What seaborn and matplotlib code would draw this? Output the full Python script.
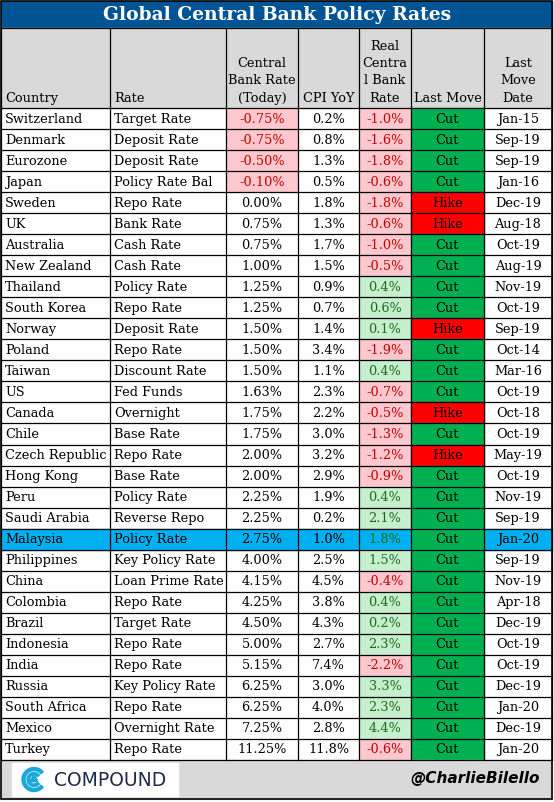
import matplotlib
matplotlib.use("Agg")
import matplotlib.pyplot as plt
import seaborn as sns
from matplotlib.patches import Rectangle, Circle, Wedge

sns.set_theme(style="white")
plt.rcParams['font.family'] = ['DejaVu Serif']
plt.rcParams['text.color'] = 'black'

countries = ["Switzerland","Denmark","Eurozone","Japan","Sweden","UK","Australia","New Zealand","Thailand",
             "South Korea","Norway","Poland","Taiwan","US","Canada","Chile","Czech Republic","Hong Kong","Peru",
             "Saudi Arabia","Malaysia","Philippines","China","Colombia","Brazil","Indonesia","India","Russia",
             "South Africa","Mexico","Turkey"]
rate_names = ["Target Rate","Deposit Rate","Deposit Rate","Policy Rate Bal","Repo Rate","Bank Rate","Cash Rate",
              "Cash Rate","Policy Rate","Repo Rate","Deposit Rate","Repo Rate","Discount Rate","Fed Funds","Overnight",
              "Base Rate","Repo Rate","Base Rate","Policy Rate","Reverse Repo","Policy Rate","Key Policy Rate",
              "Loan Prime Rate","Repo Rate","Target Rate","Repo Rate","Repo Rate","Key Policy Rate","Repo Rate",
              "Overnight Rate","Repo Rate"]
cb_rate = [-0.75,-0.75,-0.50,-0.10,0.00,0.75,0.75,1.00,1.25,1.25,1.50,1.50,1.50,1.63,1.75,1.75,2.00,2.00,2.25,
           2.25,2.75,4.00,4.15,4.25,4.50,5.00,5.15,6.25,6.25,7.25,11.25]
cpi = [0.2,0.8,1.3,0.5,1.8,1.3,1.7,1.5,0.9,0.7,1.4,3.4,1.1,2.3,2.2,3.0,3.2,2.9,1.9,0.2,1.0,2.5,4.5,3.8,4.3,2.7,
       7.4,3.0,4.0,2.8,11.8]
real = [-1.0,-1.6,-1.8,-0.6,-1.8,-0.6,-1.0,-0.5,0.4,0.6,0.1,-1.9,0.4,-0.7,-0.5,-1.3,-1.2,-0.9,0.4,2.1,1.8,1.5,
        -0.4,0.4,0.2,2.3,-2.2,3.3,2.3,4.4,-0.6]
last_move = ["Cut","Cut","Cut","Cut","Hike","Hike","Cut","Cut","Cut","Cut","Hike","Cut","Cut","Cut","Hike","Cut",
             "Hike","Cut","Cut","Cut","Cut","Cut","Cut","Cut","Cut","Cut","Cut","Cut","Cut","Cut","Cut"]
move_date = ["Jan-15","Sep-19","Sep-19","Jan-16","Dec-19","Aug-18","Oct-19","Aug-19","Nov-19","Oct-19","Sep-19",
             "Oct-14","Mar-16","Oct-19","Oct-18","Oct-19","May-19","Oct-19","Nov-19","Sep-19","Jan-20","Sep-19",
             "Nov-19","Apr-18","Dec-19","Oct-19","Oct-19","Dec-19","Jan-20","Dec-19","Jan-20"]
headers = ["Country","Rate","Central\nBank Rate\n(Today)","CPI YoY","Real\nCentra\nl Bank\nRate","Last Move","Last\nMove\nDate"]
highlight = "Malaysia"

W, H = 554, 802
fig = plt.figure(figsize=(W/100, H/100), dpi=100)
ax = fig.add_axes([0, 0, 1, 1])
ax.set_xlim(0, W); ax.set_ylim(H, 0); ax.axis("off")

xs = [1, 110, 226, 298, 359, 411, 484, 552]
top_title, top_head, top_body = 1, 28, 108
n = len(countries)
rh = (760 - top_body) / n
bottom = top_body + n * rh

navy = "#005493"
ax.add_patch(Rectangle((xs[0], top_title), xs[-1]-xs[0], top_head-top_title, color=navy, zorder=1))
ax.text(W/2, 14.5, "Global Central Bank Policy Rates", color="white", fontsize=13.5, fontweight="bold",
        ha="center", va="center")
ax.add_patch(Rectangle((xs[0], top_head), xs[-1]-xs[0], top_body-top_head, color="#d9d9d9", zorder=1))
hfs = 9.3
for j, h in enumerate(headers):
    if j < 2:
        ax.text(xs[j]+4, top_body-3, h, ha="left", va="bottom", fontsize=hfs, linespacing=1.45)
    else:
        ax.text((xs[j]+xs[j+1])/2, top_body-3, h, ha="center", va="bottom", fontsize=hfs, linespacing=1.45)

pink, redt = "#ffc7ce", "#c00000"
lgreen, gt = "#c6efce", "#1e6b1e"
for i in range(n):
    y0 = top_body + i*rh; yc = y0 + rh/2 + 0.5
    hl = countries[i] == highlight
    if hl:
        ax.add_patch(Rectangle((xs[0], y0), xs[-1]-xs[0], rh, color="#00b0f0", zorder=1))
    if cb_rate[i] < 0 and not hl:
        ax.add_patch(Rectangle((xs[2], y0), xs[3]-xs[2], rh, color=pink, zorder=1))
    if not hl:
        ax.add_patch(Rectangle((xs[4], y0), xs[5]-xs[4], rh, color=pink if real[i] < 0 else lgreen, zorder=1))
    mc = "#00b050" if last_move[i] == "Cut" else "#ff0000"
    ax.add_patch(Rectangle((xs[5], y0), xs[6]-xs[5], rh, color=mc, zorder=1))
    fs = 9.3
    ax.text(xs[0]+4, yc, countries[i], va="center", fontsize=fs)
    ax.text(xs[1]+4, yc, rate_names[i], va="center", fontsize=fs)
    ax.text((xs[2]+xs[3])/2, yc, f"{cb_rate[i]:.2f}%", va="center", ha="center", fontsize=fs,
            color=redt if (cb_rate[i] < 0 and not hl) else "black")
    ax.text((xs[3]+xs[4])/2, yc, f"{cpi[i]:.1f}%", va="center", ha="center", fontsize=fs)
    ax.text((xs[4]+xs[5])/2, yc, f"{real[i]:.1f}%", va="center", ha="center", fontsize=fs,
            color=gt if (hl or real[i] >= 0) else redt)
    ax.text((xs[5]+xs[6])/2, yc, last_move[i], va="center", ha="center", fontsize=fs)
    ax.text((xs[6]+xs[7])/2, yc, move_date[i], va="center", ha="center", fontsize=fs)

for k in range(n+1):
    y = top_body + k*rh
    ax.plot([xs[0], xs[-1]], [y, y], color="black", lw=0.9, zorder=3)
ax.plot([xs[0], xs[-1]], [top_head, top_head], color="black", lw=0.9, zorder=3)
for x in xs:
    ax.plot([x, x], [top_head, bottom], color="black", lw=0.9, zorder=3)

ax.add_patch(Rectangle((xs[0], bottom), xs[-1]-xs[0], 799-bottom, color="#d9d9d9", zorder=1))
ax.add_patch(Rectangle((xs[0], top_title), xs[-1]-xs[0], 799-top_title, fill=False, ec="black", lw=1.2, zorder=4))
ax.add_patch(Rectangle((12, 763), 166, 33, color="white", zorder=2))
ax.add_patch(Wedge((34, 779.5), 12, 40, 320, width=3, color="#1aa7d9", zorder=3))
ax.add_patch(Wedge((34, 779.5), 7, 40, 320, width=2.5, color="#1aa7d9", zorder=3))
ax.plot([31, 37, 34, 31], [781, 781, 776, 781], color="#1aa7d9", lw=2, zorder=3)
ax.text(54, 780, "COMPOUND", fontsize=13.5, va="center", ha="left", color="#1f2d4a",
        family=["DejaVu Sans"])
ax.text(540, 779, "@CharlieBilello", fontsize=11, va="center", ha="right", fontstyle="italic",
        fontweight="bold", family=["DejaVu Sans"])

fig.savefig("out.png", dpi=100)
